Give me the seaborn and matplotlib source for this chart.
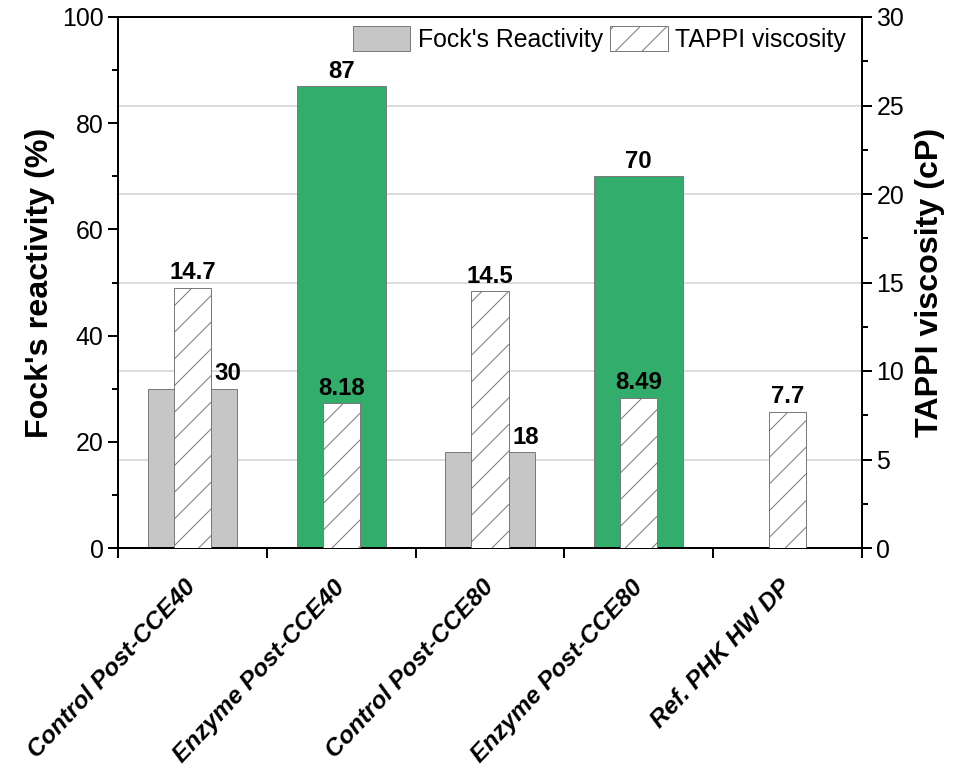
import numpy as np
import pandas as pd
import matplotlib
matplotlib.use('Agg')
import matplotlib.pyplot as plt
import matplotlib.transforms as mtransforms
from matplotlib.patches import Patch
from matplotlib.ticker import MultipleLocator
import seaborn as sns

# ── Data ───────────────────────────────────────────────────────────────────────
categories = ['Control Post-CCE40', 'Enzyme Post-CCE40', 'Control Post-CCE80',
              'Enzyme Post-CCE80', 'Ref. PHK HW DP']
fock = [30, 87, 18, 70, np.nan]          # Fock's reactivity (%)
viscosity = [14.7, 8.18, 14.5, 8.49, 7.7]  # TAPPI viscosity (cP)
fock_labels = ['30', '87', '18', '70', '']
visc_labels = ['14.7', '8.18', '14.5', '8.49', '7.7']
is_control = [True, False, True, False, True]

GRAY = '#c6c6c6'
GREEN = '#33ad6b'
EDGE = '#7a7a7a'
NARROW = ['Liberation Sans Narrow', 'Liberation Sans', 'DejaVu Sans']

sns.set_style('ticks')
plt.rcParams['font.family'] = ['Liberation Sans', 'DejaVu Sans']
plt.rcParams['hatch.linewidth'] = 0.45
plt.rcParams['hatch.color'] = EDGE
for k in ['text.color', 'axes.labelcolor', 'xtick.color', 'ytick.color']:
    plt.rcParams[k] = 'black'

DPI = 160
fig, ax = plt.subplots(figsize=(956 / DPI, 777 / DPI), dpi=DPI)
fig.subplots_adjust(left=118 / 956, right=862 / 956, top=1 - 17 / 777, bottom=1 - 548 / 777)
ax2 = ax.twinx()

df = pd.DataFrame({'cat': categories, 'fock': fock, 'visc': viscosity})
pal = [GRAY if c else GREEN for c in is_control]

# Fock's reactivity bars (wide, behind)
sns.barplot(data=df.dropna(subset=['fock']), x='cat', y='fock', order=categories,
            hue='cat', hue_order=categories, palette=pal, legend=False,
            width=0.6, edgecolor=EDGE, linewidth=0.45, saturation=1, ax=ax, zorder=2)

# TAPPI viscosity bars (narrow, hatched, in front)
sns.barplot(data=df, x='cat', y='visc', order=categories, color='white',
            width=0.25, edgecolor=EDGE, linewidth=0.45, hatch='//', saturation=1,
            ax=ax2, zorder=3)
for p in ax2.patches:
    p.set_facecolor('white')

# ── Axes ───────────────────────────────────────────────────────────────────────
ax.set_ylim(0, 100)
ax2.set_ylim(0, 30)
ax.set_xlim(-0.5, len(categories) - 0.5)

ax.yaxis.set_major_locator(MultipleLocator(20))
ax.yaxis.set_minor_locator(MultipleLocator(10))
ax2.yaxis.set_major_locator(MultipleLocator(5))
ax2.yaxis.set_minor_locator(MultipleLocator(2.5))

# grid lines at right-axis major ticks, drawn behind all bars
for v in [5, 10, 15, 20, 25]:
    ax.axhline(v * 100 / 30, color='#d4d4d4', lw=0.7, zorder=0)

ax.set_xticks(np.arange(-0.5, len(categories), 1))
ax.set_xticklabels([])
ax.set_xticks(np.arange(len(categories)), minor=True)
ax.set_xticklabels(categories, minor=True, rotation=47, ha='right',
                   rotation_mode='anchor', va='center',
                   fontsize=11, fontweight='bold', fontstyle='italic')
shift = mtransforms.ScaledTranslation(-4 / DPI, 0, fig.dpi_scale_trans)
for lab in ax.get_xticklabels(minor=True):
    lab.set_transform(lab.get_transform() + shift)

ax.tick_params(axis='x', which='major', direction='out', length=4.5, width=0.9)
ax.tick_params(axis='x', which='minor', length=0, pad=16)
ax.tick_params(axis='y', which='major', direction='out', length=4.5, width=0.9,
               labelsize=11.2, pad=2)
ax.tick_params(axis='y', which='minor', direction='out', length=2.7, width=0.9)
ax2.tick_params(axis='y', which='major', direction='out', length=4.5, width=0.9,
                labelsize=11.2, pad=2)
ax2.tick_params(axis='y', which='minor', direction='out', length=2.7, width=0.9)

for a in (ax, ax2):
    for s in a.spines.values():
        s.set_visible(True)
        s.set_color('black')
        s.set_linewidth(0.9)

ax.set_xlabel('')
ax2.set_xlabel('')
ax.set_ylabel("Fock's reactivity (%)", fontsize=14.5, fontweight='bold', labelpad=3)
ax2.set_ylabel('TAPPI viscosity (cP)', fontsize=14.5, fontweight='bold', labelpad=5)

# ── Value labels ───────────────────────────────────────────────────────────────
for i, (f, fl, ctrl) in enumerate(zip(fock, fock_labels, is_control)):
    if np.isnan(f):
        continue
    xpos = i + 0.24 if ctrl else i
    ax.annotate(fl, (xpos, f), xytext=(0, 1.5), textcoords='offset points',
                ha='center', va='bottom', fontsize=10.8, fontweight='bold',
                family=NARROW)
for i, (v, vl) in enumerate(zip(viscosity, visc_labels)):
    ax2.annotate(vl, (i, v), xytext=(0, 1.5), textcoords='offset points',
                 ha='center', va='bottom', fontsize=10.8, fontweight='bold',
                 family=NARROW, zorder=5)

# ── Legend ─────────────────────────────────────────────────────────────────────
handles = [Patch(facecolor=GRAY, edgecolor=EDGE, linewidth=0.45, label="Fock's Reactivity"),
           Patch(facecolor='white', edgecolor=EDGE, linewidth=0.45, hatch='//',
                 label='TAPPI viscosity')]
ax2.legend(handles=handles, loc='upper right', ncol=2, frameon=False,
           fontsize=11.2, handlelength=2.3, handleheight=1.2, handletextpad=0.3,
           columnspacing=0.3, borderaxespad=0.15, borderpad=0.2,
           bbox_to_anchor=(0.99, 1.0))

fig.savefig('out.png', dpi=DPI)
